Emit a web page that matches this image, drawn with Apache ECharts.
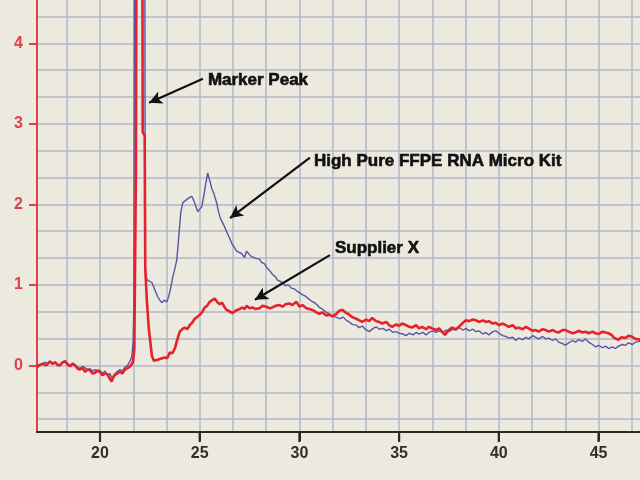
<!DOCTYPE html>
<html>
<head>
<meta charset="utf-8">
<script src="https://cdn.jsdelivr.net/npm/echarts@6/dist/echarts.min.js"></script>
<style>
html,body{margin:0;padding:0;background:#ece9df;}
#chart{width:640px;height:480px;}
</style>
</head>
<body>
<div id="chart"></div>
<script>
// ---- axis settings ----
var xMin = 16.84, xMax = 47.08;
var yMin = -0.826, yMax = 4.537;
var xTickLabels = [20, 25, 30, 35, 40, 45];
var yTickLabels = [0, 1, 2, 3, 4];
var xGridValues = [18.333, 20, 21.667, 23.333, 25, 26.667, 28.333, 30, 31.667, 33.333, 35, 36.667, 38.333, 40, 41.667, 43.333, 45, 46.667];
var yGridValues = [-0.667, -0.333, 0, 0.333, 0.667, 1, 1.333, 1.667, 2, 2.333, 2.667, 3, 3.333, 3.667, 4, 4.333];

// ---- High Pure FFPE RNA Micro Kit (blue) ----
var blueX = [16.84,17.05,17.24,17.4,17.49,17.62,17.74,17.87,17.99,18.12,18.25,18.38,18.5,18.62,18.75,18.88,19.0,19.12,19.25,19.38,19.5,19.62,19.75,19.88,20.0,20.12,20.25,20.38,20.5,20.6,20.72,20.85,21.0,21.12,21.25,21.38,21.5,21.6,21.66,21.7,21.73,22.24,22.27,22.3,22.37,22.45,22.6,22.75,22.9,23.0,23.1,23.22,23.35,23.45,23.55,23.65,23.75,23.85,23.95,24.05,24.15,24.3,24.45,24.6,24.7,24.8,24.9,25.0,25.1,25.2,25.3,25.4,25.5,25.6,25.7,25.85,25.95,26.05,26.15,26.25,26.35,26.5,26.6,26.75,26.85,26.95,27.1,27.25,27.35,27.45,27.55,27.65,27.8,27.9,28.0,28.1,28.25,28.35,28.5,28.65,28.8,28.9,29.0,29.15,29.3,29.45,29.6,29.75,29.9,30.0,30.15,30.3,30.45,30.6,30.75,30.9,31.0,31.15,31.35,31.5,31.65,31.85,32.0,32.2,32.35,32.5,32.65,32.85,33.0,33.15,33.3,33.5,33.7,33.85,34.0,34.2,34.35,34.5,34.7,34.85,35.0,35.2,35.35,35.5,35.7,35.85,36.0,36.2,36.35,36.5,36.7,36.85,37.0,37.2,37.35,37.5,37.7,37.85,38.0,38.2,38.35,38.5,38.7,38.85,39.0,39.2,39.35,39.5,39.7,39.85,40.0,40.2,40.35,40.5,40.7,40.85,41.0,41.2,41.35,41.5,41.7,41.85,42.0,42.2,42.35,42.5,42.7,42.85,43.0,43.2,43.35,43.5,43.7,43.85,44.0,44.2,44.35,44.5,44.7,44.85,45.0,45.2,45.35,45.5,45.7,45.85,46.0,46.2,46.35,46.5,46.7,46.85,47.1];
var blueY = [-0.03,0.01,0.04,0.02,0.05,0.03,0.04,0.0,0.01,0.03,0.06,0.02,0.0,0.03,0.01,-0.02,-0.04,-0.01,-0.03,-0.06,-0.04,-0.07,-0.05,-0.08,-0.06,-0.1,-0.07,-0.13,-0.1,-0.16,-0.11,-0.08,-0.05,-0.07,-0.02,0.0,0.05,0.12,0.3,0.8,6.5,6.5,1.25,1.12,1.06,1.05,1.03,0.94,0.85,0.81,0.78,0.81,0.79,0.86,0.97,1.1,1.2,1.31,1.6,1.9,2.02,2.05,2.08,2.1,2.05,1.98,1.91,1.93,1.97,2.1,2.25,2.39,2.3,2.2,2.14,2.02,1.9,1.82,1.77,1.72,1.66,1.58,1.52,1.46,1.42,1.44,1.39,1.34,1.42,1.4,1.36,1.38,1.33,1.31,1.32,1.28,1.26,1.22,1.18,1.13,1.1,1.06,1.04,1.03,0.99,1.0,0.96,0.95,0.92,0.91,0.88,0.86,0.83,0.8,0.78,0.75,0.72,0.7,0.66,0.64,0.61,0.6,0.58,0.6,0.56,0.54,0.51,0.5,0.47,0.49,0.45,0.42,0.46,0.48,0.45,0.46,0.43,0.45,0.41,0.42,0.4,0.39,0.37,0.4,0.38,0.41,0.39,0.41,0.38,0.41,0.43,0.41,0.43,0.41,0.44,0.42,0.45,0.44,0.47,0.44,0.46,0.43,0.45,0.42,0.43,0.39,0.41,0.38,0.42,0.43,0.4,0.37,0.36,0.34,0.35,0.31,0.34,0.32,0.35,0.33,0.37,0.35,0.33,0.36,0.33,0.34,0.31,0.33,0.29,0.27,0.25,0.28,0.31,0.29,0.32,0.3,0.33,0.29,0.26,0.23,0.25,0.22,0.24,0.21,0.23,0.21,0.24,0.26,0.25,0.28,0.26,0.29,0.3];

// ---- Supplier X (red) ----
var redX = [16.84,17.0,17.15,17.3,17.49,17.62,17.74,17.87,17.99,18.12,18.25,18.38,18.5,18.62,18.75,18.88,19.0,19.12,19.25,19.38,19.5,19.62,19.75,19.88,20.0,20.12,20.25,20.38,20.5,20.58,20.7,20.85,21.0,21.12,21.25,21.4,21.55,21.65,21.72,21.8,21.84,22.12,22.14,22.24,22.27,22.35,22.45,22.52,22.6,22.7,22.8,22.9,23.0,23.12,23.25,23.37,23.5,23.62,23.75,23.85,24.0,24.12,24.25,24.37,24.5,24.62,24.75,24.87,25.0,25.12,25.25,25.37,25.5,25.62,25.75,25.87,26.0,26.12,26.25,26.35,26.5,26.65,26.8,26.9,27.0,27.12,27.25,27.35,27.5,27.65,27.8,28.0,28.15,28.35,28.5,28.65,28.8,29.0,29.15,29.3,29.5,29.65,29.85,30.0,30.15,30.35,30.5,30.65,30.85,31.0,31.15,31.35,31.5,31.65,31.85,32.0,32.15,32.3,32.5,32.65,32.85,33.0,33.15,33.35,33.5,33.65,33.85,34.0,34.15,34.35,34.5,34.65,34.85,35.0,35.15,35.35,35.5,35.65,35.85,36.0,36.15,36.35,36.5,36.65,36.85,37.0,37.15,37.3,37.45,37.65,37.85,38.0,38.2,38.35,38.5,38.7,38.85,39.0,39.2,39.35,39.5,39.7,39.85,40.0,40.2,40.35,40.5,40.7,40.85,41.0,41.2,41.35,41.5,41.7,41.85,42.0,42.2,42.35,42.5,42.7,42.85,43.0,43.2,43.35,43.5,43.7,43.85,44.0,44.2,44.35,44.5,44.7,44.85,45.0,45.2,45.35,45.5,45.65,45.8,46.0,46.15,46.35,46.5,46.65,46.85,47.1];
var redY = [-0.01,0.01,0.02,0.0,0.05,0.02,0.04,0.01,0.0,0.04,0.05,0.01,-0.01,0.02,0.0,-0.04,-0.05,-0.03,-0.08,-0.05,-0.06,-0.1,-0.09,-0.06,-0.08,-0.12,-0.1,-0.11,-0.17,-0.2,-0.13,-0.1,-0.08,-0.1,-0.05,-0.03,0.0,0.04,0.2,2.4,6.5,6.5,2.9,2.85,1.2,0.8,0.45,0.3,0.12,0.06,0.04,0.07,0.05,0.09,0.1,0.09,0.16,0.15,0.21,0.3,0.42,0.45,0.47,0.45,0.5,0.53,0.58,0.6,0.63,0.66,0.72,0.74,0.79,0.81,0.83,0.79,0.76,0.78,0.72,0.69,0.67,0.65,0.68,0.66,0.7,0.72,0.7,0.74,0.71,0.72,0.7,0.71,0.74,0.73,0.71,0.72,0.74,0.75,0.73,0.76,0.77,0.75,0.79,0.73,0.75,0.71,0.7,0.69,0.66,0.64,0.66,0.62,0.63,0.61,0.64,0.68,0.69,0.66,0.63,0.6,0.58,0.56,0.54,0.57,0.55,0.59,0.55,0.54,0.52,0.54,0.5,0.48,0.51,0.49,0.52,0.5,0.48,0.47,0.5,0.46,0.48,0.45,0.48,0.46,0.44,0.46,0.42,0.38,0.43,0.47,0.45,0.48,0.53,0.56,0.55,0.57,0.56,0.54,0.56,0.54,0.55,0.52,0.53,0.5,0.52,0.5,0.48,0.5,0.46,0.47,0.45,0.48,0.46,0.43,0.44,0.42,0.45,0.44,0.42,0.44,0.42,0.41,0.44,0.44,0.42,0.4,0.41,0.43,0.41,0.42,0.4,0.42,0.4,0.39,0.42,0.41,0.4,0.38,0.34,0.32,0.35,0.34,0.37,0.36,0.33,0.32];

// ---- annotations ----
var annoText = ['Marker Peak', 'High Pure FFPE RNA Micro Kit', 'Supplier X'];
var annoTextX = [25.41, 30.73, 31.78];
var annoTextY = [3.54, 2.54, 1.46];
var arrowFromX = [25.16, 30.53, 31.53];
var arrowFromY = [3.56, 2.58, 1.37];
var arrowToX = [22.46, 26.52, 27.77];
var arrowToY = [3.26, 1.83, 0.815];

function zip(xs, ys) { return xs.map(function (x, i) { return [x, ys[i]]; }); }

var gridColor = '#b5b6c6';
var axisDark = '#2a2a2a';
var fontFam = 'Liberation Sans, Arial, sans-serif';

var chart = echarts.init(document.getElementById('chart'), null, { renderer: 'canvas' });
chart.setOption({
  animation: false,
  backgroundColor: '#ece9df',
  grid: { left: 37, right: 0, top: 0, bottom: 48, containLabel: false },
  xAxis: [
    {
      type: 'value', min: xMin, max: xMax, position: 'bottom',
      axisLine: { show: true, onZero: false, lineStyle: { color: axisDark, width: 2 } },
      axisTick: { show: true, inside: false, customValues: xTickLabels, length: 9, lineStyle: { color: axisDark, width: 2 } },
      axisLabel: { show: true, customValues: xTickLabels, margin: 14, color: '#2e2e2e', fontSize: 16, fontWeight: 'bold', fontFamily: fontFam },
      splitLine: { show: false }
    },
    {
      type: 'value', min: xMin, max: xMax, position: 'top',
      axisLine: { show: false, onZero: false },
      axisTick: { show: false, customValues: xGridValues },
      axisLabel: { show: false },
      splitLine: { show: true, lineStyle: { color: gridColor, width: 1.5 } }
    }
  ],
  yAxis: [
    {
      type: 'value', min: yMin, max: yMax, position: 'left',
      axisLine: { show: true, onZero: false, lineStyle: { color: '#e0404a', width: 2 } },
      axisTick: { show: true, inside: false, customValues: yTickLabels, length: 8, lineStyle: { color: '#e0404a', width: 2 } },
      axisLabel: { show: true, customValues: yTickLabels, margin: 14, color: '#e0404a', fontSize: 16, fontWeight: 'bold', fontFamily: fontFam },
      splitLine: { show: false }
    },
    {
      type: 'value', min: yMin, max: yMax, position: 'right',
      axisLine: { show: false, onZero: false },
      axisTick: { show: false, customValues: yGridValues },
      axisLabel: { show: false },
      splitLine: { show: true, lineStyle: { color: gridColor, width: 1.5 } }
    }
  ],
  series: [
    {
      name: 'High Pure FFPE RNA Micro Kit', type: 'line', xAxisIndex: 0, yAxisIndex: 0,
      data: zip(blueX, blueY), showSymbol: false, symbol: 'none', z: 3,
      lineStyle: { color: '#5656a6', width: 1.4 }
    },
    {
      name: 'Supplier X', type: 'line', xAxisIndex: 0, yAxisIndex: 0,
      data: zip(redX, redY), showSymbol: false, symbol: 'none', z: 4,
      lineStyle: { color: '#e5222c', width: 2.6 }
    },
    {
      name: 'annotations', type: 'line', xAxisIndex: 0, yAxisIndex: 0, data: [], z: 5,
      markLine: {
        silent: true, symbol: ['none', 'arrow'], symbolSize: [10, 13],
        lineStyle: { color: '#111', width: 2.2, type: 'solid' },
        label: { show: false },
        data: arrowFromX.map(function (x, i) {
          return [{ coord: [x, arrowFromY[i]] }, { coord: [arrowToX[i], arrowToY[i]] }];
        })
      },
      markPoint: {
        silent: true, symbol: 'circle', symbolSize: 0,
        label: { show: true, position: 'right', distance: 0, color: '#111', fontSize: 17, fontWeight: 'bold', fontFamily: fontFam, textBorderColor: '#111', textBorderWidth: 0.6, formatter: function (p) { return p.name; } },
        data: annoText.map(function (t, i) { return { name: t, coord: [annoTextX[i], annoTextY[i]] }; })
      }
    },
    {
      name: 'x ticks', type: 'custom', xAxisIndex: 0, yAxisIndex: 0,
      clip: false, silent: true, zlevel: 1, z: 20,
      data: xTickLabels.map(function (v) { return [v, yMin]; }),
      renderItem: function (params, api) {
        var p = api.coord([api.value(0), api.value(1)]);
        return {
          type: 'line',
          shape: { x1: p[0], y1: p[1], x2: p[0], y2: p[1] + 10 },
          style: { stroke: axisDark, lineWidth: 2.2 }
        };
      }
    }
  ]
});
</script>
</body>
</html>
